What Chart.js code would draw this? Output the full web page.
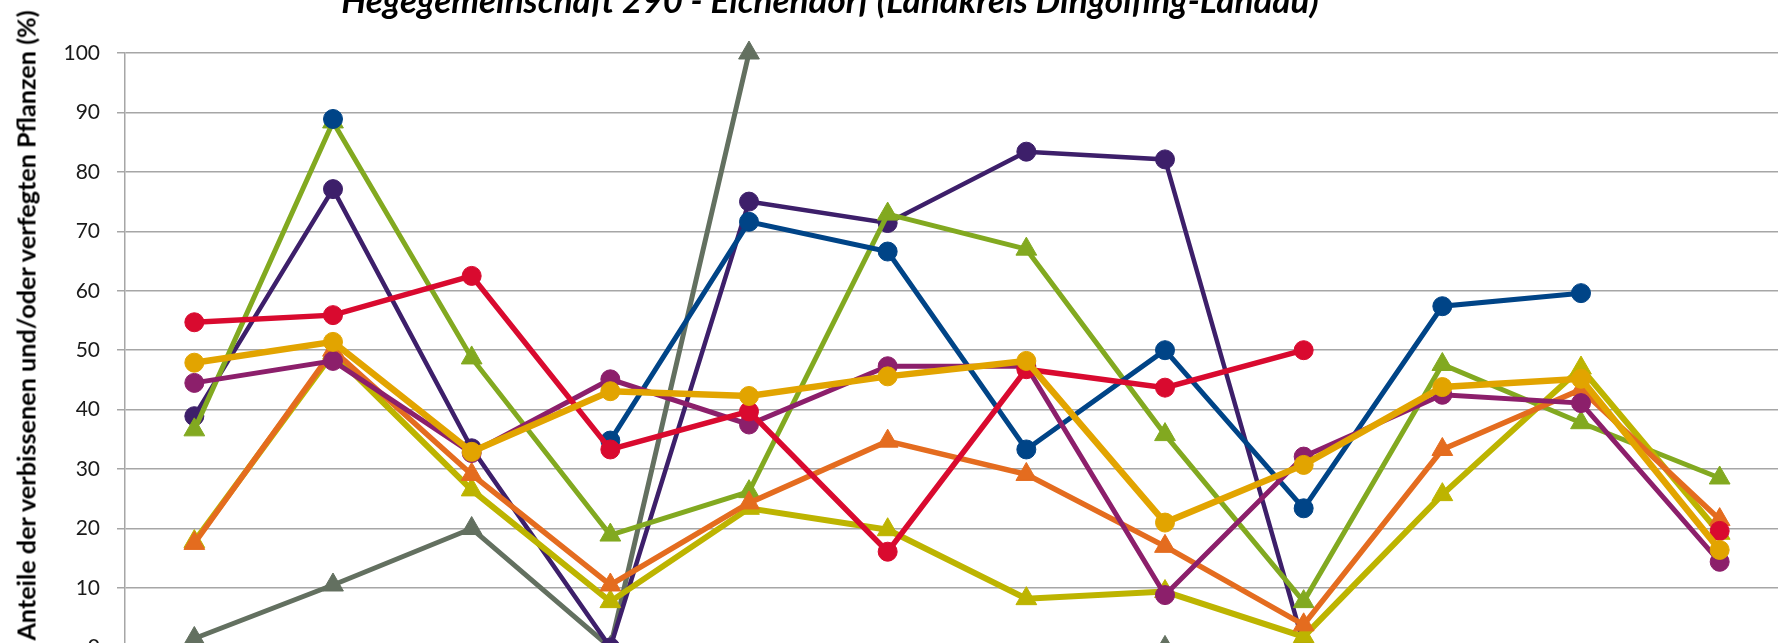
<!DOCTYPE html>
<html>
<head>
<meta charset="utf-8">
<script src="https://cdn.jsdelivr.net/npm/chart.js@4.4.1/dist/chart.umd.min.js"></script>
<style>
  html, body { margin: 0; padding: 0; background: #fff; overflow: hidden; width: 1778px; height: 643px; }
  #wrap { position: absolute; left: 0; top: 0; width: 1802px; height: 677px; }
  #chart { display: block; width: 1802px; height: 677px; }
  #title {
    position: absolute; left: 0; width: 1660px; top: -18px;
    text-align: center; white-space: nowrap;
    font: italic 700 35px/35px Lato, "Open Sans", sans-serif; color: #000;
  }
  #ytitle {
    position: absolute; width: 700px; left: -324px; top: 313px; height: 25px;
    text-align: center; white-space: nowrap; transform: rotate(-90deg); transform-origin: 50% 50%;
    font: 700 25.2px/25px Lato, "Open Sans", sans-serif; color: #000;
  }
</style>
</head>
<body>
<div id="wrap"><canvas id="chart" width="1802" height="677"></canvas></div>
<div id="title">Hegegemeinschaft 290 - Eichendorf (Landkreis Dingolfing-Landau)</div>
<div id="ytitle">Anteile der verbissenen und/oder verfegten Pflanzen (%)</div>
<script>
// Aufnahmejahre (Achsenbeschriftung liegt ausserhalb des Bildausschnitts)
const categories = ['1991', '1994', '1997', '2000', '2003', '2006', '2009', '2012', '2015', '2018', '2021', '2024'];
const yTicks = [0, 10, 20, 30, 40, 50, 60, 70, 80, 90, 100];

// Werte in Prozent, null = keine Aufnahme
const gold    = [47.9, 51.4, 32.9, 43.1, 42.3, 45.6, 48.2, 21.0, 30.7, 43.8, 45.2, 16.4];
const red     = [54.7, 55.9, 62.5, 33.3, 39.7, 16.1, 46.8, 43.7, 50.0, null, null, 19.6];
const magenta = [44.5, 48.2, 32.7, 45.1, 37.5, 47.3, 47.3, 8.8, 32.1, 42.5, 41.1, 14.4];
const blue    = [null, 88.9, null, 34.8, 71.6, 66.6, 33.3, 50.0, 23.4, 57.4, 59.6, null];
const orange  = [17.5, 50.0, 29.1, 10.5, 24.3, 34.7, 29.1, 17.0, 3.8, 33.3, 43.4, 21.5];
const olive   = [17.8, 49.5, 26.5, 7.7, 23.4, 19.8, 8.2, 9.4, 1.8, 25.7, 47.0, 19.2];
const green   = [36.6, 88.4, 48.7, 18.9, 26.2, 72.9, 67.0, 35.8, 7.7, 47.6, 37.8, 28.5];
const purple  = [38.9, 77.1, 33.5, 0.0, 75.0, 71.4, 83.4, 82.1, 0.5, null, null, null];
const grey    = [1.5, 10.5, 20.0, 0.0, 100.0, null, null, 0.0, 0.0, null, null, null];

const GRID = '#a6a6a6';

function series(label, values, color, style, width) {
  return {
    label,
    data: values,
    borderColor: color,
    backgroundColor: color,
    pointBackgroundColor: color,
    pointBorderColor: color,
    pointStyle: style,
    pointRadius: style === 'triangle' ? 12 : 9.5,
    pointBorderWidth: 1,
    borderWidth: width,
    tension: 0,
    spanGaps: false,
    clip: false,
  };
}

// erste Reihe liegt oben
const datasets = [
  series('Edellaubholz', gold, '#e2a400', 'circle', 6.5),
  series('Buche', red, '#d90a2f', 'circle', 5.5),
  series('Sonstiges Laubholz', magenta, '#8c1f6b', 'circle', 5),
  series('Tanne', blue, '#004487', 'circle', 5),
  series('Eiche', orange, '#e46c1f', 'triangle', 5.5),
  series('Kiefer', olive, '#bdb400', 'triangle', 6),
  series('Fichte', green, '#82a920', 'triangle', 5),
  series('Bergahorn', purple, '#3d1f6a', 'circle', 4.5),
  series('Laerche', grey, '#637060', 'triangle', 5),
];

new Chart(document.getElementById('chart'), {
  type: 'line',
  data: { labels: categories, datasets },
  options: {
    responsive: false,
    animation: false,
    devicePixelRatio: 1,
    layout: { padding: { top: 53, right: 1, left: 0, bottom: 0 } },
    plugins: {
      legend: { display: false },
      title: { display: false },
      tooltip: { enabled: false },
    },
    scales: {
      x: {
        type: 'category',
        offset: true,
        ticks: { display: false },
        grid: { display: false },
        border: { display: true, color: GRID, width: 1.5 },
        afterFit: (scale) => { scale.height = 14; },
      },
      y: {
        min: 0,
        max: 100,
        afterBuildTicks: (scale) => { scale.ticks = yTicks.map((v) => ({ value: v })); },
        ticks: { color: '#1a1a1a', padding: 17, font: { family: 'Lato', size: 21 } },
        grid: { color: GRID, lineWidth: 1.5, tickLength: 8, drawTicks: true },
        border: { display: true, color: GRID, width: 1.5 },
        afterFit: (scale) => { scale.width = 125; },
      },
    },
  },
});
</script>
</body>
</html>
